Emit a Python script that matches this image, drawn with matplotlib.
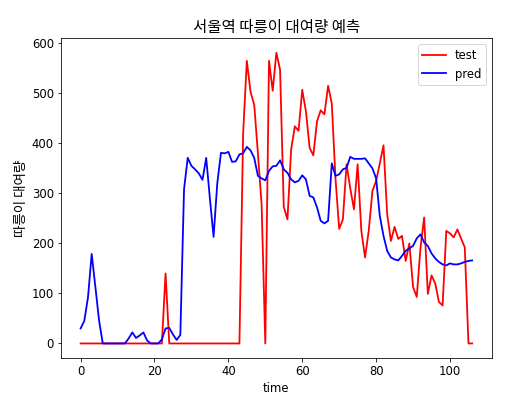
import matplotlib
matplotlib.use("Agg")
import matplotlib.pyplot as plt

KR_FONT = ["Noto Sans CJK KR", "DejaVu Sans"]

# 서울역 따릉이 대여량: 실제값(test)과 예측값(pred)
test = [0] * 23 + [140] + [0] * 20 + [
    420, 565, 503, 477, 380, 278, 0, 565, 505, 581,
    547, 273, 248, 388, 434, 425, 507, 464, 391, 376,
    444, 466, 458, 515, 480, 330, 229, 248, 358, 310,
    268, 358, 225, 172, 225, 305, 325, 360, 396, 258,
    205, 233, 209, 215, 165, 200, 113, 93, 190, 252,
    99, 136, 120, 83, 76, 225, 220, 212, 228, 210,
    192, 0, 0,
]
pred = [
    30, 45, 92, 179, 113, 46, 0, 0, 0, 0,
    0, 0, 0, 10, 22, 11, 16, 22, 6, 0,
    0, 0, 8, 30, 31, 18, 7, 17, 308, 371,
    355, 348, 340, 327, 371, 290, 213, 320, 381, 380,
    383, 363, 364, 378, 380, 393, 386, 371, 335, 330,
    326, 345, 354, 355, 366, 348, 341, 328, 322, 325,
    336, 328, 295, 292, 272, 245, 240, 245, 360, 335,
    338, 348, 351, 373, 369, 369, 369, 370, 360, 350,
    330, 255, 215, 185, 172, 168, 166, 175, 185, 190,
    195, 210, 218, 202, 195, 180, 170, 163, 158, 156,
    160, 158, 158, 160, 163, 165, 166,
]

plt.rcParams["font.size"] = 11.6

fig = plt.figure(figsize=(518 / 72, 399 / 72), dpi=72)
ax = fig.add_axes([0.1178, 0.1028, 0.8315, 0.8013])

ax.plot(test, color="red", linewidth=1.8, label="test")
ax.plot(pred, color="blue", linewidth=1.8, label="pred")

ax.set_title("서울역 따릉이 대여량 예측", family=KR_FONT, fontsize=15.5)
ax.set_xlabel("time")
ax.set_ylabel("따릉이 대여량", family=KR_FONT, fontsize=13.5)
ax.legend(loc="upper right")

fig.savefig("out.png", dpi=72)
